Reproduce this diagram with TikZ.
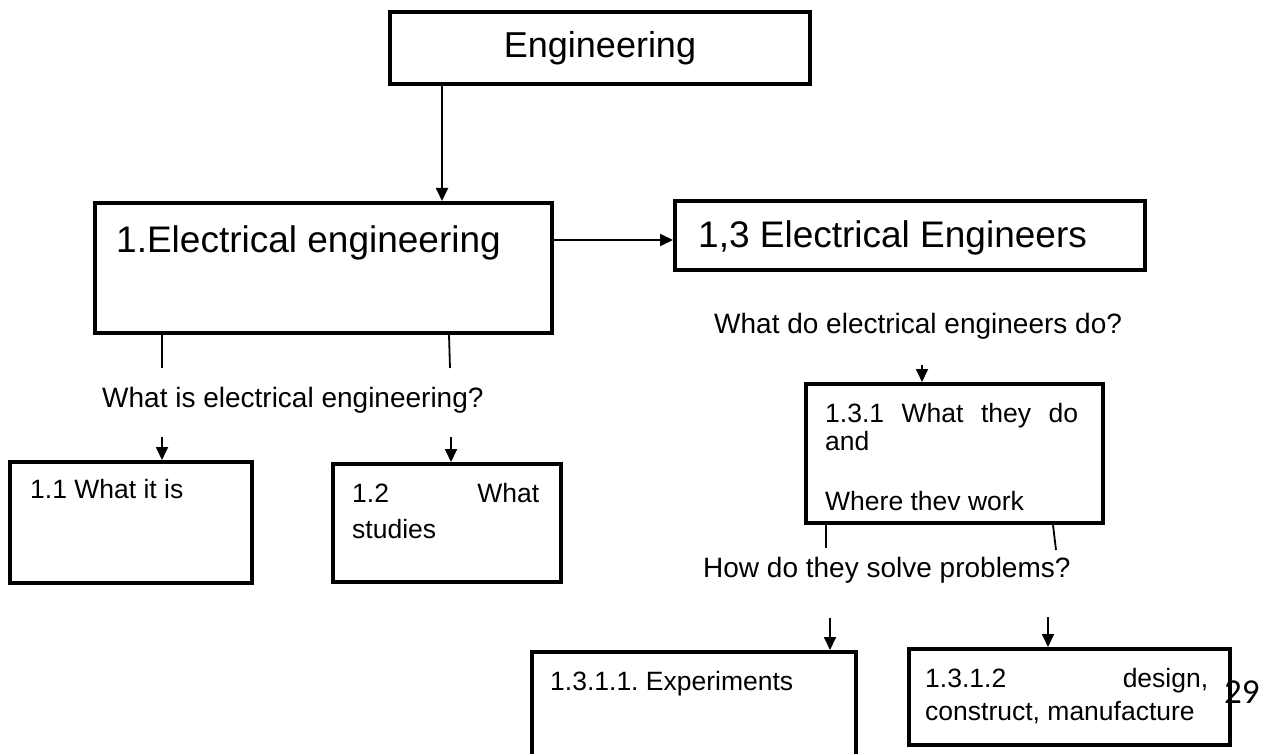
\documentclass[tikz,border=0pt]{standalone}
\usepackage{fontspec}
\setmainfont{Liberation Sans}
\newfontfamily\pagenumfont{Carlito}
\usetikzlibrary{arrows.meta}
\frenchspacing
\begin{document}
\begin{tikzpicture}[x=1pt,y=-1pt,
  box/.style={draw, line width=4pt, rectangle, inner sep=0pt, outer sep=2pt},
  conn/.style={line width=1.8pt},
  arr/.style={conn, -{Triangle[length=13pt,width=12pt]}},
  big/.style={inner sep=0pt, anchor=base west, font=\fontsize{37}{42}\selectfont},
  title/.style={inner sep=0pt, anchor=base, font=\fontsize{36}{40}\selectfont},
  ques/.style={inner sep=0pt, anchor=base west, font=\fontsize{28}{32}\selectfont},
  lbl/.style={inner sep=0pt, anchor=base west, font=\fontsize{26.5}{30}\selectfont},
]
% page area
\clip (0,0) rectangle (1271,754);

% boxes
\node[box, minimum width=420pt, minimum height=72pt]  (eng)   at (600,48)     {};
\node[box, minimum width=457pt, minimum height=130pt] (elec)  at (323.5,268)  {};
\node[box, minimum width=470pt, minimum height=69pt]  (ee)    at (910,235.5)  {};
\node[box, minimum width=242pt, minimum height=121pt] (whatis) at (131,522.5) {};
\node[box, minimum width=228pt, minimum height=118pt] (studies) at (447,523)  {};
\node[box, minimum width=297pt, minimum height=139pt] (work)  at (954.5,453.5) {};
\node[box, minimum width=324pt, minimum height=128pt] (exper) at (694,716)    {};
\node[box, minimum width=321pt, minimum height=96pt]  (design) at (1069.5,697) {};

% box texts
\node[title] (tEng) at (600,58) {Engineering};
\node[big] (tElec) at (116,252) {1.Electrical engineering};
\node[big] (tEE) at (698,247) {1,3 Electrical Engineers};
\node[lbl] (tWhatis) at (30,498) {1.1 What it is};
\node[lbl] (tStudA) at (352,502) {\makebox[187pt][s]{1.2 What}};
\node[lbl] (tStudB) at (352,538) {studies};
\node[lbl] (tWorkA) at (825,422) {\makebox[253pt][s]{1.3.1 What they do}};
\node[lbl] (tWorkB) at (825,450) {and};
\node[lbl] (tWorkC) at (825,510) {Where thev work};
\node[lbl] (tExper) at (550,690) {1.3.1.1. Experiments};
\node[lbl] (tDesA) at (925,687) {\makebox[283pt][s]{1.3.1.2 design,}};
\node[lbl] (tDesB) at (925,720) {construct, manufacture};

% questions between levels
\node[ques] (qElec) at (102,407) {What is electrical engineering?};
\node[ques] (qDo) at (714,333) {What do electrical engineers do?};
\node[ques] (qSolve) at (703,577) {How do they solve problems?};

% page number
\node[inner sep=0pt, anchor=base west, font=\pagenumfont\fontsize{35}{40}\selectfont] (pnum) at (1224,703) {29};

% connector positions
\coordinate (xEng) at (442,0);
\coordinate (yEE) at (0,240);
\coordinate (xL) at (162,0);
\coordinate (xR) at (449,0);
\coordinate (lEnd) at (162,368);
\coordinate (rEnd) at (450,368);
\coordinate (sWhatis) at (162,437);
\coordinate (sStudies) at (451,437);
\coordinate (sWork) at (922,365);
\coordinate (xWL) at (826,0);
\coordinate (xWR) at (1053,0);
\coordinate (wlEnd) at (826,548);
\coordinate (wrEnd) at (1056,550);
\coordinate (sExper) at (830,618);
\coordinate (sDesign) at (1048,617);

% connectors
\draw[arr] (eng.south -| xEng) -- (elec.north -| xEng);
\draw[arr] (elec.east |- yEE) -- (ee.west |- yEE);
\draw[conn] (elec.south -| xL) -- (lEnd);
\draw[conn] (elec.south -| xR) -- (rEnd);
\draw[arr] (sWhatis) -- (whatis.north -| sWhatis);
\draw[arr] (sStudies) -- (studies.north -| sStudies);
\draw[arr] (sWork) -- (work.north -| sWork);
\draw[conn] (work.south -| xWL) -- (wlEnd);
\draw[conn] (work.south -| xWR) -- (wrEnd);
\draw[arr] (sExper) -- (exper.north -| sExper);
\draw[arr] (sDesign) -- (design.north -| sDesign);
\end{tikzpicture}
\end{document}
